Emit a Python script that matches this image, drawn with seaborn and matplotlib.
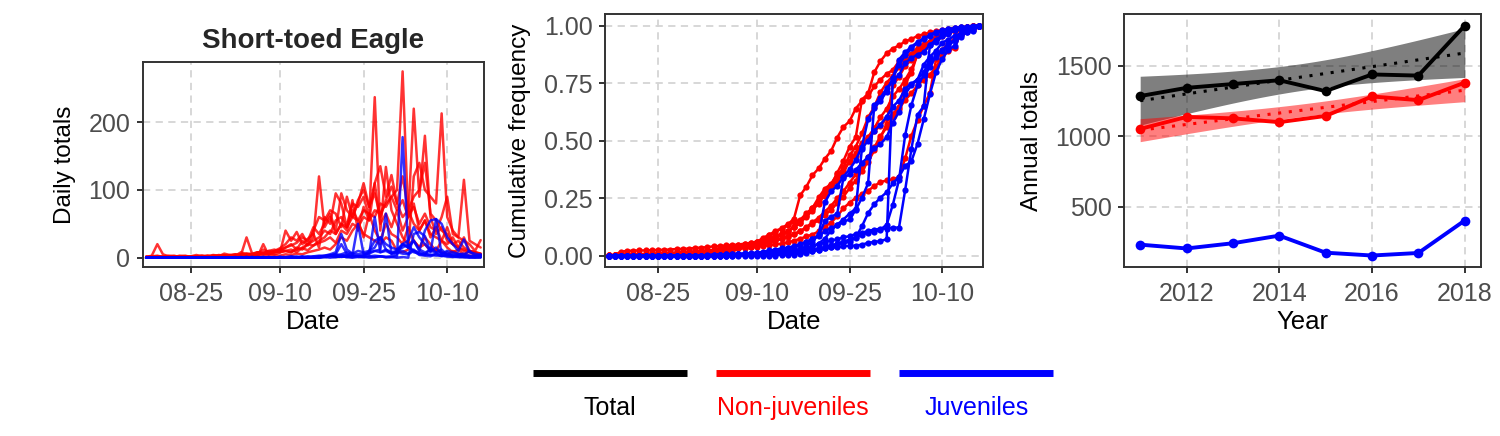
import numpy as np
import pandas as pd
import matplotlib
matplotlib.use("Agg")
import matplotlib.pyplot as plt
import matplotlib.dates as mdates
from matplotlib.ticker import FormatStrFormatter
import seaborn as sns

# Daily counts, 17 Aug - 16 Oct (61 days), one list per year
years = [2011, 2012, 2013, 2014, 2015, 2016, 2017, 2018]
first_day = "2000-08-17"

nj_2011 = [0, 2, 3, 1, 0, 1, 2, 1, 0, 2, 1, 3, 2, 1, 2,
           3, 2, 4, 3, 5, 4, 6, 5, 8, 10,
           15, 20, 12, 25, 18, 30, 120,
           45, 60, 35, 50, 40, 70, 55, 30, 65, 40, 25, 50, 35,
           30, 20, 45, 25, 15, 30, 20, 10, 25, 15, 8, 12, 5, 10, 6, 4]
nj_2012 = [1, 3, 20, 5, 2, 1, 0, 2, 1, 1, 2, 3, 1, 2, 4,
           2, 3, 5, 2, 4, 3, 2, 6, 5, 8,
           10, 8, 15, 12, 20, 25, 30,
           40, 35, 55, 60, 45, 80, 75, 90, 60, 237, 40, 134, 70,
           50, 30, 20, 25, 15, 20, 10, 12, 8, 5, 10, 6, 4, 3, 2, 5]
nj_2013 = [0, 1, 2, 1, 1, 0, 2, 3, 1, 2, 1, 1, 3, 2, 1,
           3, 2, 5, 6, 4, 8, 5, 7, 9, 8,
           10, 8, 12, 14, 11, 18, 22,
           25, 30, 22, 40, 35, 50, 45, 60, 55, 70, 65, 80, 90,
           100, 275, 60, 80, 40, 55, 30, 45, 25, 20, 30, 15, 10, 8, 5, 3]
nj_2014 = [2, 1, 0, 1, 2, 3, 1, 2, 2, 1, 3, 2, 4, 3, 2,
           3, 5, 4, 30, 6, 8, 7, 10, 12, 8,
           40, 25, 38, 20, 28, 35, 15,
           60, 50, 95, 80, 45, 85, 40, 75, 55, 110, 50, 65, 45,
           70, 40, 60, 220, 90, 180, 60, 35, 45, 25, 20, 15, 30, 10, 8, 5]
nj_2015 = [0, 0, 1, 1, 0, 2, 1, 1, 2, 1, 0, 1, 2, 1, 1,
           1, 2, 2, 3, 1, 2, 20, 3, 4, 3,
           5, 4, 6, 5, 8, 10, 12,
           15, 12, 20, 30, 25, 40, 50, 35, 30, 25, 20, 30, 25,
           10, 8, 12, 120, 140, 100, 90, 80, 213, 60, 40, 30, 25, 20, 10, 26]
nj_2016 = [1, 0, 2, 1, 3, 2, 1, 0, 2, 4, 2, 1, 3, 2, 6,
           4, 3, 8, 5, 3, 6, 12, 8, 10, 14,
           20, 30, 25, 35, 20, 40, 60,
           55, 70, 65, 45, 90, 60, 80, 110, 75, 95, 60, 85, 105,
           80, 120, 70, 90, 100, 140, 65, 55, 40, 35, 20, 25, 15, 10, 8, 6]
nj_2017 = [0, 1, 1, 2, 1, 0, 1, 2, 1, 1, 2, 2, 1, 3, 2,
           4, 5, 3, 6, 5, 8, 6, 10, 8, 12,
           10, 12, 8, 15, 20, 18, 25,
           30, 40, 35, 50, 45, 60, 55, 70, 65, 60, 80, 75, 90,
           70, 85, 60, 75, 50, 65, 45, 40, 60, 90, 35, 30, 115, 25, 20, 15]
nj_2018 = [1, 2, 1, 0, 2, 1, 3, 2, 1, 2, 3, 1, 2, 4, 3,
           2, 4, 3, 5, 6, 4, 8, 6, 9, 12,
           15, 18, 22, 30, 25, 45, 35,
           50, 65, 40, 95, 70, 60, 85, 100, 75, 110, 135, 90, 122,
           80, 60, 70, 50, 40, 55, 35, 30, 25, 45, 20, 15, 12, 10, 8, 6]

j_2011 = [0] * 15 + [0, 0, 0, 1, 0, 0, 1, 0, 0, 1,
                     0, 1, 0, 1, 0, 1, 1,
                     3, 5, 8, 35, 12, 6, 10, 8, 10, 15, 30, 12, 8,
                     10, 15, 20, 8, 6, 5, 4, 3, 3, 2, 2, 1, 1, 1, 0, 1]
j_2012 = [0] * 15 + [0, 0, 0, 0, 0, 1, 0, 0, 0, 0,
                     0, 0, 1, 0, 0, 1, 0,
                     2, 3, 4, 5, 8, 6, 5, 6, 5, 60, 8, 10, 6,
                     8, 10, 6, 12, 5, 4, 15, 8, 6, 8, 3, 4, 2, 2, 1, 5]
j_2013 = [0] * 15 + [0, 0, 1, 0, 0, 0, 0, 0, 1, 0,
                     0, 0, 1, 0, 0, 1, 0,
                     1, 0, 1, 2, 1, 0, 1, 1, 0, 1, 2, 1, 1,
                     2, 178, 15, 10, 8, 6, 4, 5, 3, 2, 1, 1, 1, 0, 1, 1]
j_2014 = [0] * 15 + [0, 1, 0, 0, 1, 0, 0, 1, 0, 1,
                     1, 2, 1, 2, 1, 2, 3,
                     3, 4, 5, 20, 6, 4, 50, 5, 6, 10, 8, 12, 6,
                     10, 20, 15, 25, 12, 8, 10, 15, 6, 10, 8, 6, 4, 10, 3, 3]
j_2015 = [0] * 15 + [0, 0, 0, 0, 0, 0, 0, 0, 0, 0,
                     0, 0, 0, 1, 0, 0, 1,
                     1, 2, 1, 2, 1, 3, 2, 2, 2, 3, 2, 1, 2,
                     5, 20, 25, 45, 30, 20, 10, 8, 12, 4, 6, 5, 6, 3, 2, 4]
j_2016 = [0] * 15 + [0, 0, 0, 0, 0, 0, 1, 0, 0, 0,
                     0, 0, 1, 0, 1, 0, 1,
                     2, 3, 2, 1, 2, 1, 2, 1, 2, 1, 2, 1, 1,
                     0, 1, 0, 35, 38, 32, 8, 57, 5, 4, 3, 2, 2, 1, 1, 0]
j_2017 = [0] * 15 + [0, 0, 0, 0, 1, 0, 0, 0, 0, 1,
                     0, 1, 1, 0, 2, 1, 2,
                     2, 3, 2, 4, 3, 2, 3, 2, 8, 10, 12, 65, 6,
                     8, 6, 5, 10, 4, 3, 2, 6, 2, 5, 2, 3, 1, 1, 1, 1]
j_2018 = [0] * 15 + [0, 0, 0, 1, 0, 0, 0, 1, 0, 1,
                     0, 1, 0, 1, 0, 1, 1,
                     2, 3, 5, 2, 4, 3, 2, 3, 10, 25, 30, 20, 15,
                     12, 20, 15, 25, 10, 40, 55, 57, 50, 30, 20, 10, 27, 8, 6, 4]

# Annual totals
annual_nonjuv = [1053, 1138, 1128, 1101, 1145, 1283, 1257, 1381]
annual_juv = [233, 206, 243, 297, 176, 156, 174, 404]

nonjuv = [nj_2011, nj_2012, nj_2013, nj_2014, nj_2015, nj_2016, nj_2017, nj_2018]
juv = [j_2011, j_2012, j_2013, j_2014, j_2015, j_2016, j_2017, j_2018]
for s in nonjuv + juv:
    assert len(s) == 61, len(s)

pal = {"Total": "black", "Non-juveniles": "red", "Juveniles": "blue"}
dates = pd.date_range(first_day, periods=61, freq="D")

frames = []
for grp, series in [("Non-juveniles", nonjuv), ("Juveniles", juv)]:
    for yr, vals in zip(years, series):
        arr = np.array(vals, dtype=float)
        frames.append(pd.DataFrame({"date": dates, "year": yr, "group": grp,
                                    "count": arr, "cumfreq": arr.cumsum() / arr.sum()}))
daily = pd.concat(frames, ignore_index=True)

annual_total = [a + b for a, b in zip(annual_nonjuv, annual_juv)]
annual = pd.DataFrame({
    "year": years * 3,
    "group": ["Total"] * 8 + ["Non-juveniles"] * 8 + ["Juveniles"] * 8,
    "total": annual_total + annual_nonjuv + annual_juv,
})

sns.set_theme(style="white")
plt.rcParams["font.family"] = ["Liberation Sans", "DejaVu Sans"]
plt.rcParams["axes.edgecolor"] = "#333333"
plt.rcParams["axes.linewidth"] = 1.4

fig = plt.figure(figsize=(15, 4.36), dpi=100)
ax1 = fig.add_axes([0.0953, 0.3876, 0.2273, 0.470])
ax2 = fig.add_axes([0.4033, 0.3876, 0.2520, 0.580])
ax3 = fig.add_axes([0.7493, 0.3876, 0.2380, 0.580])

def style(ax, xlabel, ylabel):
    ax.grid(True, color="#d4d4d4", lw=1.3, ls=(0, (4, 3)))
    ax.set_axisbelow(True)
    ax.tick_params(axis="both", labelsize=18, labelcolor="#4d4d4d", color="#333333",
                   length=4, width=1.4, direction="out", bottom=True, left=True)
    ax.tick_params(axis="x", pad=7)
    ax.tick_params(axis="y", pad=5)
    ax.set_xlabel(xlabel, fontsize=18.5, color="black", labelpad=3)
    ax.set_ylabel(ylabel, fontsize=17.5, color="black", labelpad=9)

date_ticks = pd.to_datetime(["2000-08-25", "2000-09-10", "2000-09-25", "2000-10-10"])
pad = pd.Timedelta(hours=14)

# Panel 1: daily totals
sns.lineplot(data=daily, x="date", y="count", hue="group", units="year", estimator=None,
             hue_order=["Non-juveniles", "Juveniles"], palette=pal, lw=1.8, alpha=0.8,
             legend=False, ax=ax1)
ax1.set_xticks(date_ticks)
ax1.xaxis.set_major_formatter(mdates.DateFormatter("%m-%d"))
ax1.set_xlim(dates[0] - pad, dates[-1] + pad)
ymax = daily["count"].max()
ax1.set_ylim(-0.05 * ymax, 1.05 * ymax)
ax1.set_yticks([0, 100, 200])
ax1.set_title("Short-toed Eagle", fontsize=20, fontweight="bold", pad=10)
style(ax1, "Date", "Daily totals")

# Panel 2: cumulative frequency
sns.lineplot(data=daily, x="date", y="cumfreq", hue="group", units="year", estimator=None,
             hue_order=["Non-juveniles", "Juveniles"], palette=pal, lw=1.8,
             marker="o", markersize=4.5, markeredgewidth=0, legend=False, ax=ax2)
ax2.set_xticks(date_ticks)
ax2.xaxis.set_major_formatter(mdates.DateFormatter("%m-%d"))
ax2.set_xlim(dates[0] - pad, dates[-1] + pad)
ax2.set_ylim(-0.05, 1.05)
ax2.set_yticks([0, 0.25, 0.5, 0.75, 1.0])
ax2.yaxis.set_major_formatter(FormatStrFormatter("%.2f"))
style(ax2, "Date", "Cumulative frequency")

# Panel 3: annual totals with linear trend and 95% CI (t, df = 6)
t_crit = 2.447
x = np.array(years, dtype=float)
lows, highs = [], []
for grp in ["Total", "Non-juveniles"]:
    y = annual.loc[annual["group"] == grp, "total"].to_numpy(dtype=float)
    b, a = np.polyfit(x, y, 1)
    resid = y - (a + b * x)
    s = np.sqrt((resid ** 2).sum() / (len(x) - 2))
    xs = np.linspace(x.min(), x.max(), 100)
    se = s * np.sqrt(1 / len(x) + (xs - x.mean()) ** 2 / ((x - x.mean()) ** 2).sum())
    fit = a + b * xs
    ax3.fill_between(xs, fit - t_crit * se, fit + t_crit * se, color=pal[grp],
                     alpha=0.5, lw=0, zorder=1)
    sns.regplot(x=x, y=y, scatter=False, ci=None, color=pal[grp], ax=ax3,
                line_kws=dict(ls=(0, (1, 2.5)), lw=2.2, zorder=3))
    lows.append((fit - t_crit * se).min())
    highs.append((fit + t_crit * se).max())

sns.lineplot(data=annual, x="year", y="total", hue="group", palette=pal,
             hue_order=["Total", "Non-juveniles", "Juveniles"], lw=2.8,
             marker="o", markersize=7, markeredgewidth=0, legend=False, ax=ax3, zorder=4)
lo = min(min(lows), annual["total"].min())
hi = max(max(highs), annual["total"].max())
rng = hi - lo
ax3.set_ylim(lo - 0.05 * rng, hi + 0.05 * rng)
ax3.set_xlim(2011 - 0.35, 2018 + 0.35)
ax3.set_xticks([2012, 2014, 2016, 2018])
ax3.set_yticks([500, 1000, 1500])
style(ax3, "Year", "Annual totals")

# Bottom legend: thick line keys with coloured labels underneath
leg = fig.add_axes([518 / 1500, 11 / 436, 550 / 1500, 70 / 436])
leg.set_xlim(0, 3)
leg.set_ylim(0, 1)
leg.axis("off")
for i, grp in enumerate(["Total", "Non-juveniles", "Juveniles"]):
    leg.plot([i + 0.08, i + 0.92], [0.743, 0.743], color=pal[grp], lw=5,
             solid_capstyle="butt")
    leg.text(i + 0.5, 0.243, grp, color=pal[grp], fontsize=18, ha="center", va="center")

fig.savefig("out.png", dpi=100)
